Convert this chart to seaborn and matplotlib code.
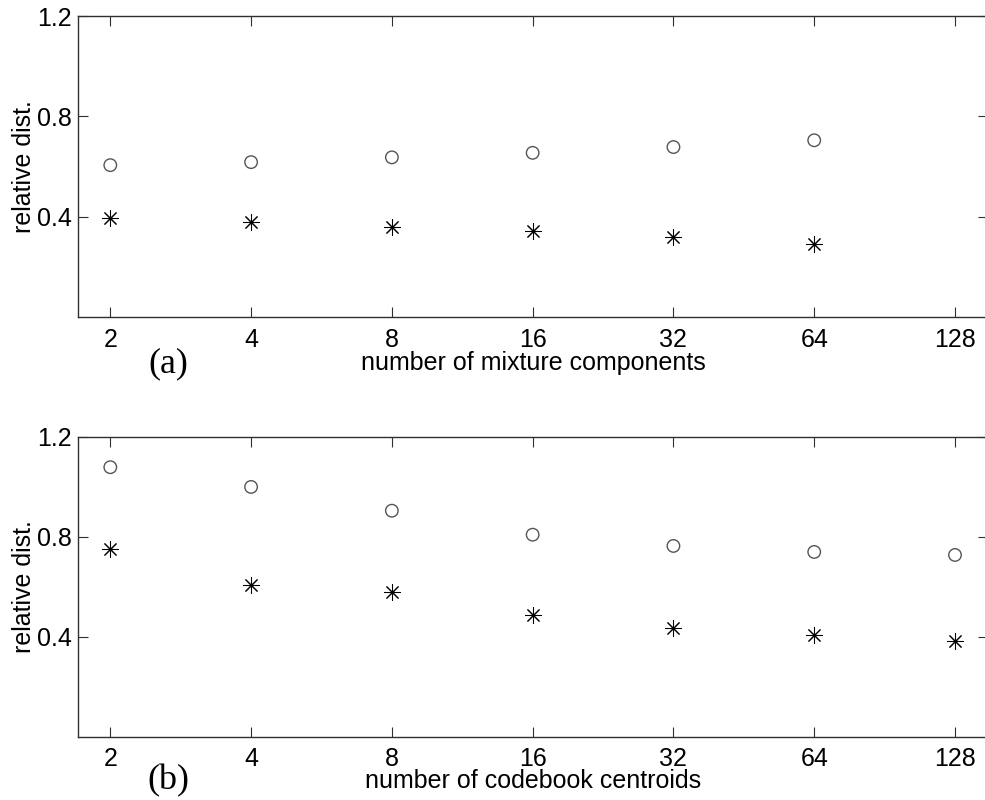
import matplotlib
matplotlib.use("Agg")
import matplotlib.pyplot as plt
import seaborn as sns
import pandas as pd
from matplotlib.ticker import FixedLocator, FixedFormatter, NullLocator

# ---- data ----
n_a = [2, 4, 8, 16, 32, 64]
circle_a = [0.606, 0.618, 0.637, 0.655, 0.678, 0.705]
star_a = [0.396, 0.378, 0.361, 0.343, 0.320, 0.292]

n_b = [2, 4, 8, 16, 32, 64, 128]
circle_b = [1.078, 0.999, 0.904, 0.808, 0.763, 0.739, 0.727]
star_b = [0.751, 0.607, 0.578, 0.488, 0.436, 0.405, 0.383]

xticks = [2, 4, 8, 16, 32, 64, 128]
xticklabels = ["2", "4", "8", "16", "32", "64", "128"]
yticks = [0.4, 0.8, 1.2]
yticklabels = ["0.4", "0.8", "1.2"]

xlabels = ["number of mixture components", "number of codebook centroids"]
panel_tags = ["(a)", "(b)"]
ylabel = "relative dist."

sns.set_theme(style="ticks")
plt.rcParams["font.family"] = ["Liberation Sans", "DejaVu Sans"]

W, H = 985, 800
fig = plt.figure(figsize=(W / 100, H / 100), dpi=100)

def fx(px):
    return px / W

def fy(py):
    return 1 - py / H

left_px, right_px = 78, 988
boxes = [(16.0, 317.3), (436.7, 736.7)]

datasets = [(n_a, circle_a, star_a), (n_b, circle_b, star_b)]

# x-limits in log2 units chosen so that 2 -> 110 px and 128 -> 955 px
step = (955 - 110.3) / 6
lo = 1 + (left_px - 110.3) / step
hi = 7 + (right_px - 955) / step

spine_col = "#303030"
for i, ((top, bot), (nn, cc, ss)) in enumerate(zip(boxes, datasets)):
    ax = fig.add_axes([fx(left_px), fy(bot), fx(right_px - left_px), (bot - top) / H])
    dfc = pd.DataFrame({"n": nn, "v": cc})
    dfs = pd.DataFrame({"n": nn, "v": ss})
    sns.scatterplot(data=dfc, x="n", y="v", ax=ax, marker="o", s=9.0 ** 2,
                    facecolors="none", edgecolor="#555555", linewidth=1.0, zorder=3)
    sns.scatterplot(data=dfs, x="n", y="v", ax=ax, marker=(8, 2, 0), s=11.5 ** 2,
                    color="black", edgecolor="black", linewidth=0.75, zorder=3)
    ax.set_xscale("log", base=2)
    ax.set_xlim(2 ** lo, 2 ** hi)
    ax.set_ylim(0, 1.2)
    ax.xaxis.set_major_locator(FixedLocator(xticks))
    ax.xaxis.set_major_formatter(FixedFormatter(xticklabels))
    ax.xaxis.set_minor_locator(NullLocator())
    ax.yaxis.set_major_locator(FixedLocator(yticks))
    ax.yaxis.set_major_formatter(FixedFormatter(yticklabels))
    ax.tick_params(axis="both", which="major", direction="in", length=7,
                   width=0.8, color=spine_col, labelsize=18, labelcolor="black",
                   top=True, right=True)
    ax.tick_params(axis="x", pad=7.5)
    ax.tick_params(axis="y", pad=4.5)
    for name, sp in ax.spines.items():
        sp.set_visible(name != "right")
        sp.set_color(spine_col)
        sp.set_linewidth(1.0)
    ax.set_xlabel(xlabels[i], fontsize=18, color="black")
    ax.xaxis.set_label_coords(0.5, -0.153 if i == 0 else -0.147)
    ax.xaxis.label.set_verticalalignment("center")
    ax.set_ylabel(ylabel, fontsize=18, color="black")
    ax.yaxis.set_label_coords(-0.0595, 0.5)
    ax.yaxis.label.set_verticalalignment("center")
    ax.text(0.099, -0.155 if i == 0 else -0.148, panel_tags[i], transform=ax.transAxes,
            ha="center", va="center", fontsize=26,
            family=["Liberation Serif", "DejaVu Serif"], color="black")
    ax.grid(False)

fig.savefig("out.png", dpi=100)
